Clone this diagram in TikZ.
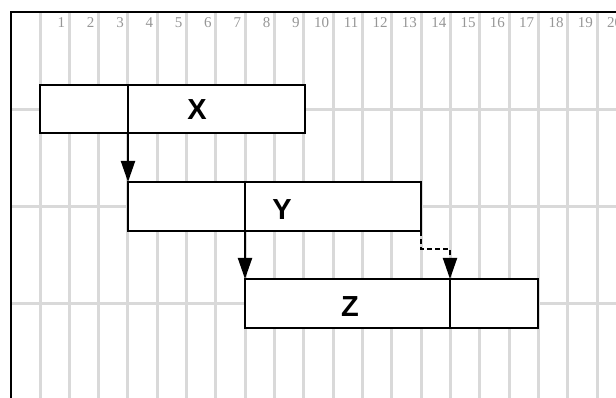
\documentclass[tikz,border=0pt]{standalone}
\usepackage{fontspec}
\setmainfont{Liberation Serif}
\newfontfamily\labelfont{Liberation Sans}
\usetikzlibrary{arrows.meta}
\definecolor{gridgray}{RGB}{217,217,217}
\definecolor{numgray}{RGB}{150,150,150}
\tikzset{
  gridline/.style={draw=gridgray, line width=3pt},
  frameline/.style={draw=black, line width=2.5pt},
  taskbox/.style={draw=black, fill=white, line width=2pt, rectangle,
    inner sep=0pt, outer sep=0pt},
  tasklabel/.style={font=\labelfont\bfseries\fontsize{29}{29}\selectfont},
  daynum/.style={anchor=east, inner sep=0pt, text=numgray,
    font=\fontsize{15}{15}\selectfont},
  flow/.style={draw=black, line width=2pt,
    -{Triangle[length=21pt,width=14pt]}},
  waitflow/.style={flow, dash pattern=on 5pt off 3pt},
}
\begin{document}
\begin{tikzpicture}[x=1pt, y=-1pt]
  \useasboundingbox (0,0) rectangle (616,398);
  % day grid
  \foreach \k in {0,...,19} {
    \draw[gridline] ({40+29.32*\k},12) -- ({40+29.32*\k},398);
  }
  \foreach \k in {1,...,20} {
    \node[daynum] (d\k) at ({40+29.32*\k-4},23) {\k};
  }
  \foreach \y in {110,207,303} {
    \draw[gridline] (11,\y) -- (616,\y);
  }
  % frame
  \draw[frameline] (11,398) -- (11,12) -- (616,12);
  % tasks
  \node[taskbox, minimum width=265pt, minimum height=48pt] (X) at (172.5,109) {};
  \node[taskbox, minimum width=293pt, minimum height=49pt] (Y) at (274.5,206.5) {};
  \node[taskbox, minimum width=293pt, minimum height=49pt] (Z) at (391.5,303.5) {};
  \node[tasklabel] (lx) at (197,110) {X};
  \node[tasklabel] (ly) at (282,210) {Y};
  \node[tasklabel] (lz) at (350,307) {Z};
  \coordinate (zd) at (450,279);
  % dependencies
  \draw[flow] (Y.west |- X.north) -- (Y.north west);
  \draw[flow] (Z.west |- Y.north) -- (Z.north west);
  \draw[waitflow] (Y.south east) -- ++(0,18) -| (zd);
  \draw[black, line width=2pt] (zd) -- (zd |- Z.south);
\end{tikzpicture}
\end{document}
